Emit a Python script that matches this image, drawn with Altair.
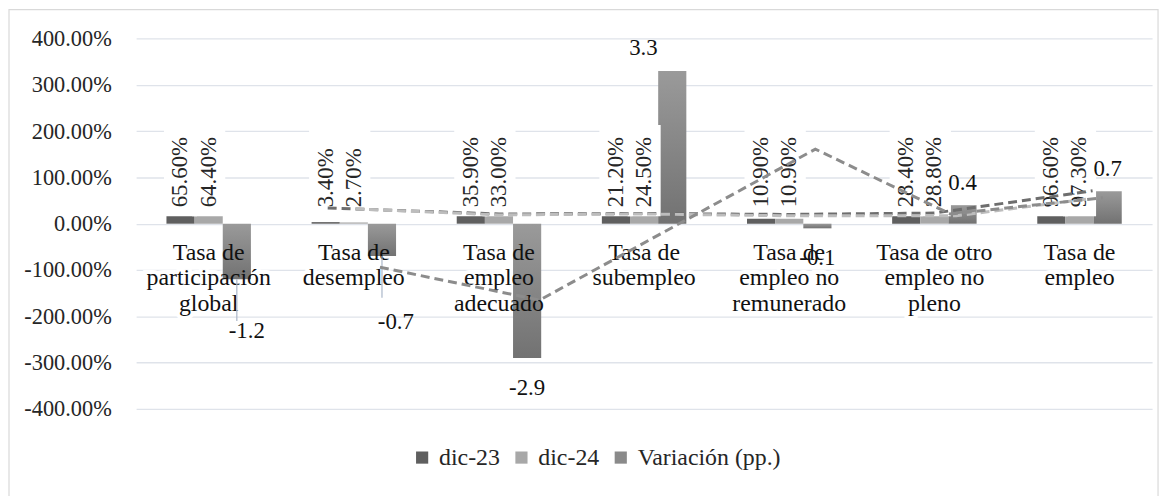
import altair as alt
import pandas as pd

# ---------------- data ----------------
categories = [
    "Tasa de participación global",
    "Tasa de desempleo",
    "Tasa de empleo adecuado",
    "Tasa de subempleo",
    "Tasa de empleo no remunerado",
    "Tasa de otro empleo no pleno",
    "Tasa de empleo",
]
category_lines = [
    "Tasa de\nparticipación\nglobal",
    "Tasa de\ndesempleo",
    "Tasa de\nempleo\nadecuado",
    "Tasa de\nsubempleo",
    "Tasa de\nempleo no\nremunerado",
    "Tasa de otro\nempleo no\npleno",
    "Tasa de\nempleo",
]
series = ["dic-23", "dic-24", "Variación (pp.)"]
dic23 = [0.656, 0.034, 0.359, 0.212, 0.109, 0.284, 0.966]
dic24 = [0.644, 0.027, 0.330, 0.245, 0.109, 0.288, 0.973]
variacion = [-1.2, -0.7, -2.9, 3.3, -0.1, 0.4, 0.7]
y_ticks = [-4, -3, -2, -1, 0, 1, 2, 3, 4]

# dashed connector lines seen in the picture (x in category units, y in axis units)
dash23_x = [0.82, 2.0, 3.0, 4.0, 5.0, 6.09]
dash23_y = [0.34, 0.21, 0.22, 0.20, 0.23, 0.71]
dash24_x = [1.01, 2.0, 3.0, 4.0, 5.15, 6.07]
dash24_y = [0.32, 0.19, 0.21, 0.17, 0.17, 0.54]
dashvar_x = [1.18, 2.28, 4.18, 5.11, 6.16]
dashvar_y = [-0.94, -1.65, 1.61, 0.21, 0.56]

# ---------------- tables ----------------
bars_df = pd.DataFrame(
    {
        "category": categories * 2,
        "series": ["dic-23"] * 7 + ["dic-24"] * 7,
        "value": dic23 + dic24,
    }
)
var_df = pd.DataFrame(
    {"category": categories, "series": ["Variación (pp.)"] * 7, "value": variacion}
)
cat_df = pd.DataFrame({"category": categories, "label": category_lines})


def line_df(xs, ys):
    return pd.DataFrame({"x": xs, "value": ys, "order": list(range(len(xs)))})


FONT = "Liberation Serif"
colors = ["#5f5f5f", "#a8a8a8", "#8a8a8a"]
MINUS_FIX = "replace(format(datum.value, '.1f'), '\u2212', '-')"

xband = alt.X(
    "category:N",
    sort=categories,
    scale=alt.Scale(domain=categories, paddingInner=0.418, paddingOuter=0.209),
    axis=None,
)
xoff = alt.XOffset("series:N", sort=series, scale=alt.Scale(domain=series))
yscale = alt.Scale(domain=[-4, 4], nice=False, zero=False)
yenc = alt.Y(
    "value:Q",
    scale=yscale,
    axis=alt.Axis(
        values=y_ticks,
        labelExpr="replace(format(datum.value, '.2%'), '\u2212', '-')",
        grid=True,
        gridColor="#dfe3ea",
        gridWidth=1.3,
        domain=False,
        ticks=False,
        labelFont=FONT,
        labelFontSize=22.5,
        labelColor="#262626",
        labelPadding=25,
        title=None,
    ),
)

frame = (
    alt.Chart(pd.DataFrame({"a": [0]}))
    .mark_rect(fill="transparent", stroke="#d9d9d9", strokeWidth=1.2)
    .encode(
        x=alt.value(-128), x2=alt.value(1029), y=alt.value(-29), y2=alt.value(470)
    )
)

cat_halo = (
    alt.Chart(cat_df)
    .mark_text(
        font=FONT, fontSize=24, lineBreak="\n", lineHeight=25.5, align="center",
        baseline="alphabetic", color="white", stroke="white", strokeWidth=8,
    )
    .encode(x=xband, y=alt.value(223), text="label:N")
)

bars = (
    alt.Chart(bars_df)
    .mark_bar()
    .encode(
        x=xband,
        xOffset=xoff,
        y=yenc,
        color=alt.Color(
            "series:N",
            sort=series,
            scale=alt.Scale(domain=series, range=colors),
            legend=alt.Legend(
                title=None,
                orient="none",
                direction="horizontal",
                legendX=276,
                legendY=410,
                symbolType="square",
                symbolSize=150,
                symbolStrokeWidth=0,
                labelFont=FONT,
                labelFontSize=24,
                labelColor="#262626",
                labelOffset=5,
                columnPadding=9,
            ),
        ),
    )
)

grad = alt.LinearGradient(
    gradient="linear",
    stops=[
        alt.GradientStop(offset=0, color="#9a9a9a"),
        alt.GradientStop(offset=1, color="#727272"),
    ],
    x1=0, x2=0, y1=0, y2=1,
)
var_bars = (
    alt.Chart(var_df)
    .mark_bar(color=grad)
    .encode(x=xband, xOffset=xoff, y=alt.Y("value:Q", scale=yscale))
)

boxes = (
    alt.Chart(bars_df)
    .mark_bar(color="white", stroke="white", strokeWidth=5)
    .encode(x=xband, xOffset=xoff, y=alt.value(89.5), y2=alt.value(176.5))
)

dlabels = (
    alt.Chart(bars_df)
    .mark_text(
        font=FONT, fontSize=23, angle=270, align="left", baseline="middle",
        color="#262626",
    )
    .encode(
        x=xband, xOffset=xoff, y=alt.value(170),
        text=alt.Text("value:Q", format=".2%"),
    )
)

cat_text = (
    alt.Chart(cat_df)
    .mark_text(
        font=FONT, fontSize=24, lineBreak="\n", lineHeight=25.5, align="center",
        baseline="alphabetic", color="#111111",
    )
    .encode(x=xband, y=alt.value(223), text="label:N")
)

# leader lines of the two labels that were pulled below the category names
leaders = (
    alt.Chart(var_df)
    .transform_filter(alt.FieldOneOfPredicate(field="category", oneOf=categories[:2]))
    .transform_calculate(end="datum.value - 0.9")
    .mark_rule(color="#aab6c8", strokeWidth=1.2)
    .encode(
        x=xband, xOffset=xoff,
        y=alt.Y("value:Q", scale=yscale),
        y2="end:Q",
    )
)


def vlabel(filter_expr, baseline, dx, dy):
    return (
        alt.Chart(var_df)
        .transform_filter(filter_expr)
        .transform_calculate(lab=MINUS_FIX)
        .mark_text(font=FONT, fontSize=23, align="center", baseline=baseline,
                   dx=dx, dy=dy, color="#111111")
        .encode(x=xband, xOffset=xoff, y=alt.Y("value:Q", scale=yscale),
                text="lab:N")
    )


c0, c1, c3 = categories[0], categories[1], categories[3]
vlab_pos = vlabel(f"datum.value >= 0 && datum.category != '{c3}'", "alphabetic", 0, -15)
vlab_top = vlabel(f"datum.category == '{c3}'", "alphabetic", -29, -16)
vlab_neg = vlabel(
    f"datum.value < 0 && datum.category != '{c0}' && datum.category != '{c1}'",
    "top", 0, 19,
)
vlab_c0 = vlabel(f"datum.category == '{c0}'", "middle", 10, 52)
vlab_c1 = vlabel(f"datum.category == '{c1}'", "middle", 14, 66)

inner = alt.layer(frame, cat_halo, bars, var_bars, boxes, dlabels, cat_text,
                  leaders, vlab_pos, vlab_top, vlab_neg, vlab_c0, vlab_c1)

xq = alt.X("x:Q", scale=alt.Scale(domain=[-0.5, 6.5], nice=False, zero=False),
           axis=None)


def dashed(xs, ys, color):
    return (
        alt.Chart(line_df(xs, ys))
        .mark_line(color=color, strokeWidth=3, strokeDash=[9, 5])
        .encode(x=xq, y=alt.Y("value:Q", scale=yscale), order="order:Q")
    )


lines = alt.layer(
    dashed(dash23_x, dash23_y, "#6e6e6e"),
    dashed(dash24_x, dash24_y, "#bdbdbd"),
    dashed(dashvar_x, dashvar_y, "#8c8c8c"),
)

chart = (
    alt.layer(inner, lines)
    .resolve_scale(x="independent")
    .properties(
        width=1023,
        height=373,
        padding={"left": 129, "top": 29, "right": 12, "bottom": 86},
        autosize=alt.AutoSizeParams(type="none"),
        background="white",
    )
    .configure_view(stroke=None)
)

chart.save("out.html", embed_options={"renderer": "svg", "actions": False})
